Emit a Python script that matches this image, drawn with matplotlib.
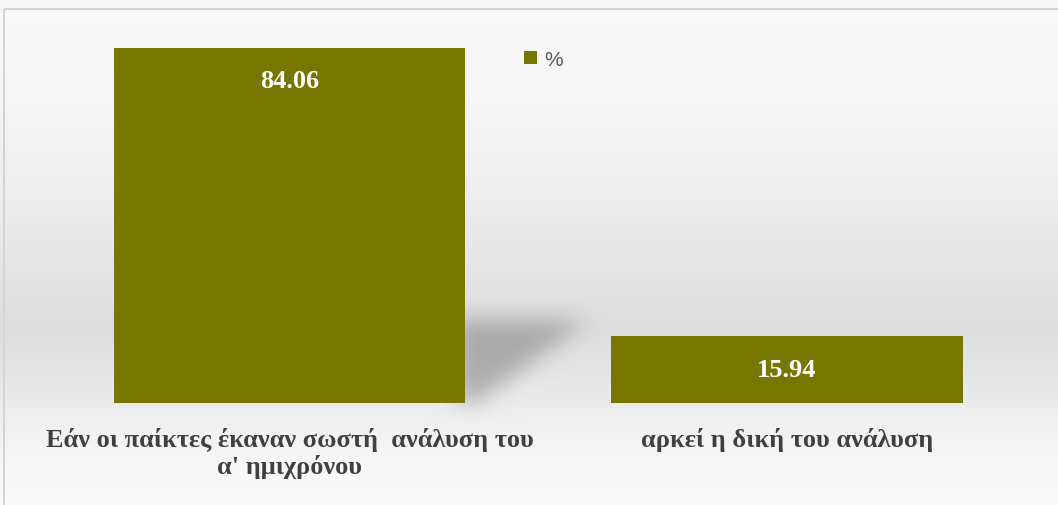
import numpy as np
import matplotlib.pyplot as plt
from matplotlib.path import Path
from matplotlib.patches import Rectangle

categories = ["Εάν οι παίκτες έκαναν σωστή  ανάλυση του\nα' ημιχρόνου",
              "αρκεί η δική του ανάλυση"]
values = [84.06, 15.94]
series_name = "%"

bar_color = "#767600"
W, H = 1058, 506


def box_blur(img, r, passes=3):
    out = img.copy()
    k = np.ones(2 * r + 1) / (2 * r + 1)
    for _ in range(passes):
        out = np.apply_along_axis(lambda m: np.convolve(m, k, mode="same"), 0, out)
        out = np.apply_along_axis(lambda m: np.convolve(m, k, mode="same"), 1, out)
    return out


def make_background():
    # vertical grey band that fades to white above and below
    yy = np.arange(H)
    ys = [0, 100, 200, 290, 330, 370, 420, 470, H]
    gs = [250, 246, 238, 226, 222, 228, 240, 248, 251]
    col = np.interp(yy, ys, gs) / 255.0
    img = np.repeat(col[:, None], W, axis=1)

    # soft cast shadow to the right of the tall bar
    gx, gy = np.meshgrid(np.arange(W), np.arange(H))
    poly = Path([(455, 320), (588, 320), (478, 402), (455, 402)])
    mask = poly.contains_points(np.c_[gx.ravel(), gy.ravel()]).reshape(H, W)
    sh = box_blur(mask.astype(float), 10)
    img = img * (1 - 0.24 * sh)
    return np.dstack([img, img, img])


fig = plt.figure(figsize=(W / 100, H / 100), dpi=100)

bg = fig.add_axes([0, 0, 1, 1], zorder=0)
bg.imshow(make_background(), extent=(0, W, H, 0), aspect="auto", interpolation="bilinear")
bg.add_patch(Rectangle((4, 10), W, H, fill=False, edgecolor="#d4d4d4", lw=1.5))
bg.set_xlim(0, W)
bg.set_ylim(H, 0)
bg.axis("off")

# axes placed so that y=0 sits on the bar baseline
px_per_unit = 355 / values[0]
top_px = 404 - 90 * px_per_unit
ax = fig.add_axes([40.75 / W, (H - 404) / H, 995 / W, (404 - top_px) / H], zorder=1)
ax.patch.set_alpha(0)

x = np.arange(len(categories))
bars = ax.bar(x, values, width=0.706, color=bar_color, label=series_name)

for b, v in zip(bars, values):
    if v > 50:
        ypos = v - 7.6
    else:
        ypos = v / 2
    ax.text(b.get_x() + b.get_width() / 2, ypos, f"{v:.2f}", ha="center", va="center",
            color="white", fontsize=19, fontweight="bold", family="Liberation Serif")

ax.set_xlim(-0.5, 1.5)
ax.set_ylim(0, 90)
ax.set_yticks([])
ax.set_xticks(x)
ax.set_xticklabels(categories, fontsize=19, fontweight="bold", color="#404040",
                   family="Liberation Serif", linespacing=1.2)
ax.tick_params(axis="x", length=0, pad=17)
for s in ax.spines.values():
    s.set_visible(False)

leg = ax.legend(loc="upper left", bbox_to_anchor=(524 / W, (H - 51) / H),
                bbox_transform=fig.transFigure, borderpad=0, borderaxespad=0,
                frameon=False, handlelength=0.6, handleheight=0.6, handletextpad=0.35,
                prop={"family": "Liberation Sans", "size": 15})
for t in leg.get_texts():
    t.set_color("#595959")

fig.savefig("out.png", dpi=100)
